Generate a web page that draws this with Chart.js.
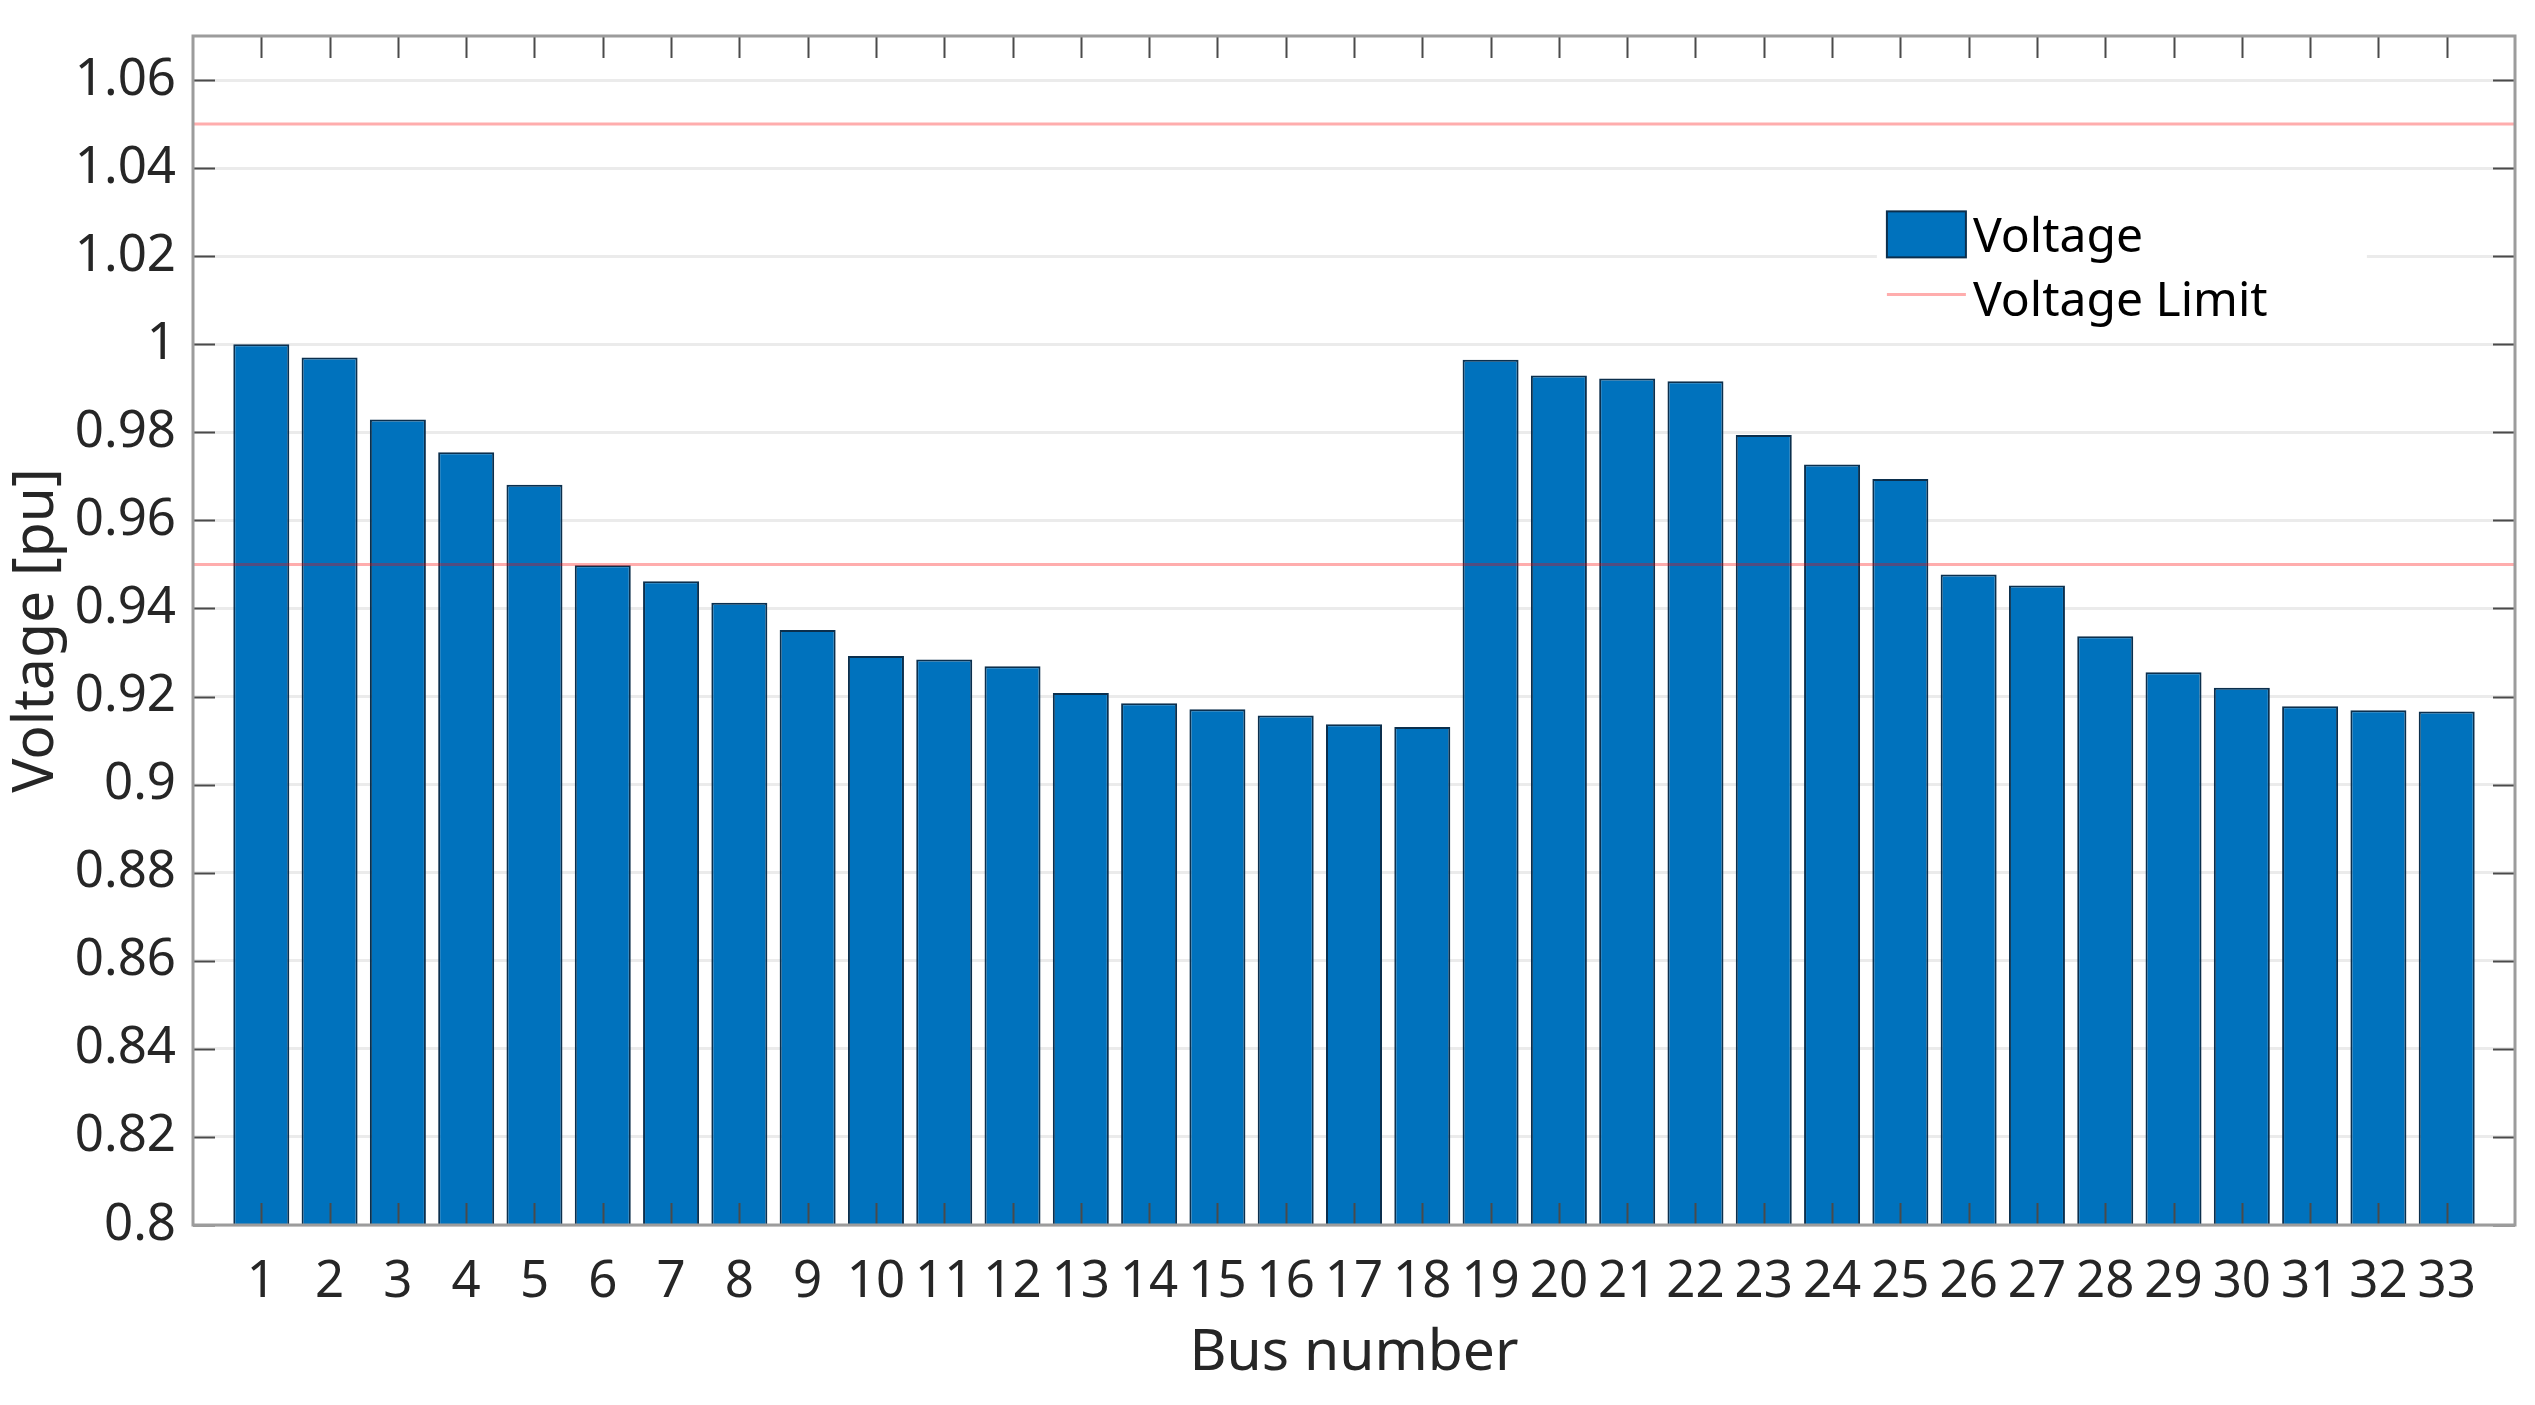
<!DOCTYPE html>
<html>
<head>
<meta charset="utf-8">
<title>Bus voltage profile</title>
<script src="https://cdn.jsdelivr.net/npm/chart.js@4.4.1/dist/chart.umd.min.js"></script>
<style>
  html, body { margin: 0; padding: 0; background: #ffffff; }
  #wrap { width: 2535px; height: 1405px; position: relative; }
</style>
</head>
<body>
<div id="wrap"><canvas id="voltageChart"></canvas></div>
<script>
// ---- data (33-bus feeder, per-unit voltages) ----
const busNumbers = [
  1, 2, 3, 4, 5, 6, 7, 8, 9, 10, 11, 12, 13, 14, 15, 16, 17,
  18, 19, 20, 21, 22, 23, 24, 25, 26, 27, 28, 29, 30, 31, 32, 33
];
const voltages = [
  1.0000, 0.9970, 0.9829, 0.9755, 0.9681, 0.9498, 0.9462, 0.9413, 0.9351,
  0.9292, 0.9284, 0.9269, 0.9208, 0.9185, 0.9171, 0.9157, 0.9137, 0.9131,
  0.9965, 0.9929, 0.9922, 0.9916, 0.9794, 0.9727, 0.9694, 0.9477, 0.9452,
  0.9337, 0.9255, 0.9220, 0.9178, 0.9169, 0.9166
];
const voltageLimits = [0.95, 1.05];
const yTickValues = [0.8, 0.82, 0.84, 0.86, 0.88, 0.9, 0.92, 0.94, 0.96, 0.98, 1, 1.02, 1.04, 1.06];
const xLimits = [0, 34];
const yLimits = [0.8, 1.07];

const BAR_BLUE = "#0072bd";
const BAR_EDGE = "#0b2f4d";
const LIMIT_RED = "rgba(255, 0, 0, 0.32)";
const TEXT = "#262626";
const FONT = "'Noto Sans', 'Open Sans', sans-serif";
const TICK_LEN = 22;

// inward tick marks on all four sides plus the axes box (MATLAB style)
const framePlugin = {
  id: "frame",
  afterDraw(chart) {
    const { ctx, chartArea: a, scales } = chart;
    const x = scales.x;
    const y = scales.y;
    ctx.save();
    ctx.strokeStyle = "#4a4a4a";
    ctx.lineWidth = 2;
    ctx.beginPath();
    x.ticks.forEach((t) => {
      const px = Math.round(x.getPixelForValue(t.value)) + 0.5;
      ctx.moveTo(px, a.bottom);
      ctx.lineTo(px, a.bottom - TICK_LEN);
      ctx.moveTo(px, a.top);
      ctx.lineTo(px, a.top + TICK_LEN);
    });
    y.ticks.forEach((t) => {
      const py = Math.round(y.getPixelForValue(t.value)) + 0.5;
      ctx.moveTo(a.left, py);
      ctx.lineTo(a.left + TICK_LEN, py);
      ctx.moveTo(a.right, py);
      ctx.lineTo(a.right - TICK_LEN, py);
    });
    ctx.stroke();
    ctx.strokeStyle = "#9c9c9c";
    ctx.lineWidth = 3;
    ctx.strokeRect(a.left, a.top, a.width, a.height);
    ctx.restore();
  },
};

// legend sitting inside the axes, upper right
const insideLegend = {
  id: "insideLegend",
  afterDatasetsDraw(chart) {
    const { ctx, chartArea: a } = chart;
    const x0 = a.left + a.width * 0.7295;
    const y0 = a.top + a.height * 0.1475;
    const symW = 79;
    const rowH = 60;
    ctx.save();
    ctx.fillStyle = "#ffffff";
    ctx.fillRect(x0 - 10, y0 - 14, 490, 128);

    ctx.fillStyle = BAR_BLUE;
    ctx.fillRect(x0, y0, symW, 46);
    ctx.strokeStyle = BAR_EDGE;
    ctx.lineWidth = 2;
    ctx.strokeRect(x0, y0, symW, 46);

    ctx.strokeStyle = LIMIT_RED;
    ctx.lineWidth = 3;
    ctx.beginPath();
    ctx.moveTo(x0, y0 + 23 + rowH);
    ctx.lineTo(x0 + symW, y0 + 23 + rowH);
    ctx.stroke();

    ctx.fillStyle = "#000000";
    ctx.font = "48px " + FONT;
    ctx.textBaseline = "middle";
    ctx.textAlign = "left";
    ctx.fillText(chart.data.datasets[0].label, x0 + 86, y0 + 27);
    ctx.fillText(chart.data.datasets[1].label, x0 + 86, y0 + 27 + rowH + 4);
    ctx.restore();
  },
};

const barPoints = busNumbers.map((b, i) => ({ x: b, y: voltages[i] }));
const limitSets = voltageLimits.map((v) => ({
  type: "line",
  label: "Voltage Limit",
  data: [{ x: xLimits[0], y: v }, { x: xLimits[1], y: v }],
  borderColor: LIMIT_RED,
  borderWidth: 3,
  pointRadius: 0,
  fill: false,
  order: 0,
}));

new Chart(document.getElementById("voltageChart"), {
  type: "bar",
  data: {
    datasets: [
      {
        label: "Voltage",
        data: barPoints,
        backgroundColor: BAR_BLUE,
        borderColor: BAR_EDGE,
        borderWidth: { top: 2, left: 2, right: 2, bottom: 0 },
        barPercentage: 0.82,
        categoryPercentage: 1.0,
        order: 1,
      },
      ...limitSets,
    ],
  },
  options: {
    responsive: true,
    maintainAspectRatio: false,
    animation: false,
    layout: { padding: { top: 36, right: 20, left: 0, bottom: 0 } },
    plugins: {
      legend: { display: false },
      tooltip: { enabled: false },
    },
    scales: {
      x: {
        type: "linear",
        offset: false,
        min: xLimits[0],
        max: xLimits[1],
        afterBuildTicks(scale) {
          scale.ticks = busNumbers.map((b) => ({ value: b }));
        },
        afterFit(scale) {
          scale.height = 180;
          scale.paddingLeft = 0;
          scale.paddingRight = 0;
        },
        grid: { display: false, drawTicks: false },
        border: { display: false },
        ticks: {
          autoSkip: false,
          maxRotation: 0,
          padding: 27,
          color: TEXT,
          font: { family: FONT, size: 51 },
          callback: (v) => String(v),
        },
        title: {
          display: true,
          text: "Bus number",
          color: TEXT,
          font: { family: FONT, size: 57 },
          padding: { top: 0, bottom: 17 },
        },
      },
      y: {
        min: yLimits[0],
        max: yLimits[1],
        afterBuildTicks(scale) {
          scale.ticks = yTickValues.map((v) => ({ value: v }));
        },
        afterFit(scale) {
          scale.width = 193;
          scale.paddingTop = 0;
          scale.paddingBottom = 0;
        },
        grid: { color: "#ebebeb", lineWidth: 3, drawTicks: false },
        border: { display: false },
        ticks: {
          padding: 17,
          color: TEXT,
          font: { family: FONT, size: 51 },
          callback: (v) => String(Number(v.toFixed(2))),
        },
        title: {
          display: true,
          text: "Voltage [pu]",
          color: TEXT,
          font: { family: FONT, size: 57 },
          padding: { top: 3, bottom: 0 },
        },
      },
    },
  },
  plugins: [insideLegend, framePlugin],
});
</script>
</body>
</html>
